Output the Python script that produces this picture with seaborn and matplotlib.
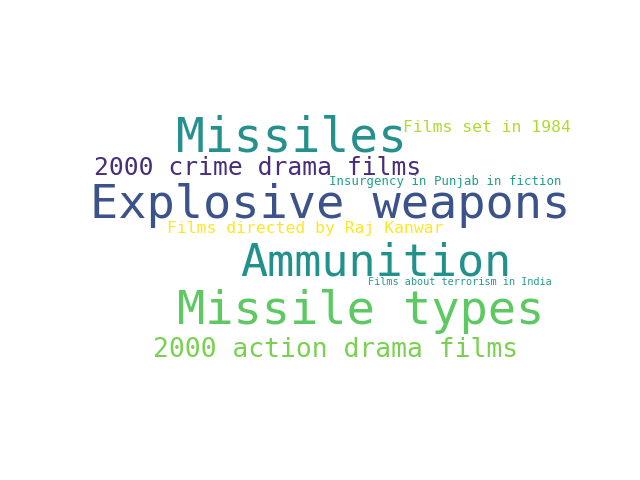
import matplotlib
matplotlib.use("Agg")
import matplotlib.pyplot as plt
import seaborn as sns

sns.set_style("white")

# word cloud terms, font sizes (pt) and colours
words = ["Missiles", "Explosive weapons", "Ammunition", "Missile types",
         "2000 crime drama films", "2000 action drama films", "Films set in 1984",
         "Insurgency in Punjab in fiction", "Films directed by Raj Kanwar",
         "Films about terrorism in India"]
sizes = [34.5, 33.8, 32.5, 33.8, 17.7, 19.0, 11.8, 8.9, 11.8, 7.4]
colors = ["#25908c", "#3b528b", "#21918c", "#5ec962", "#472d7b", "#7ad151",
          "#addc30", "#1f9e89", "#fde725", "#2a9d8a"]

# layout of each word (pixel centre in a 640x480 figure)
layout = [(292, 138), (330, 205), (376, 263), (361, 311), (258, 168),
          (336, 350), (487, 128), (445, 181), (305, 228), (460, 282)]

fig = plt.figure(figsize=(6.4, 4.8), dpi=100)
ax = fig.add_axes([0, 0, 1, 1])
ax.set_axis_off()
ax.set_xlim(0, 640)
ax.set_ylim(480, 0)

for w, s, c, (x, y) in zip(words, sizes, colors, layout):
    ax.text(x, y, w, fontsize=s, color=c, family="DejaVu Sans Mono",
            ha="center", va="center")

fig.savefig("out.png", dpi=100)
